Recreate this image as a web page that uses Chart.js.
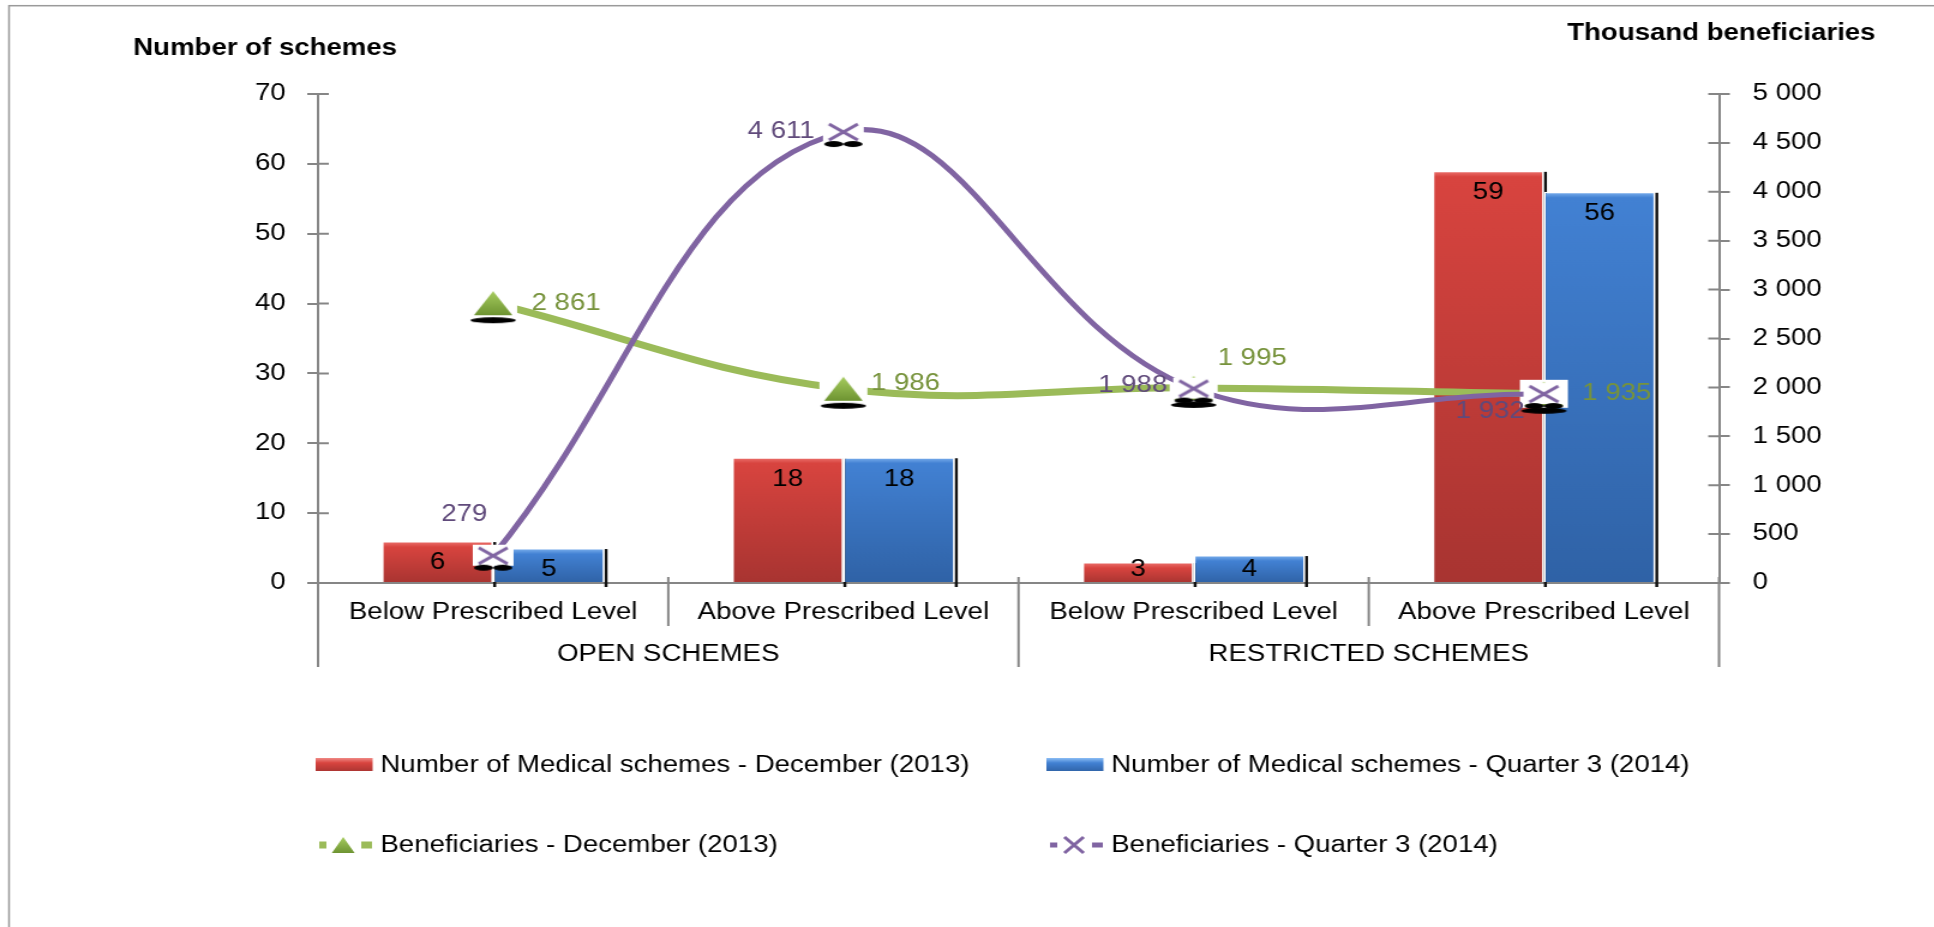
<!DOCTYPE html>
<html>
<head>
<meta charset="utf-8">
<script src="https://cdn.jsdelivr.net/npm/chart.js@4.4.1/dist/chart.umd.min.js"></script>
<style>
html, body { margin: 0; padding: 0; background: #fff; overflow: hidden; }
/* the original picture is stretched sideways, so the canvas is too */
#wrap { width: 1612px; height: 927px; transform: scaleX(1.2); transform-origin: 0 0; }
</style>
</head>
<body>
<div id="wrap"><canvas id="chart" width="1612" height="927"></canvas></div>
<script>
// data
var categories = ['Below Prescribed Level', 'Above Prescribed Level', 'Below Prescribed Level', 'Above Prescribed Level'];
var groups = ['OPEN SCHEMES', 'RESTRICTED SCHEMES'];
var groupSpans = [2, 2];
var schemesDec2013 = [6, 18, 3, 59];
var schemesQ3_2014 = [5, 18, 4, 56];
var benefDec2013 = [2861, 1986, 1995, 1935];
var benefQ3_2014 = [279, 4611, 1988, 1932];
var leftTicks = [0, 10, 20, 30, 40, 50, 60, 70];
var rightTicks = [0, 500, 1000, 1500, 2000, 2500, 3000, 3500, 4000, 4500, 5000];
var seriesNames = [
    'Number of Medical schemes - December (2013)',
    'Number of Medical schemes - Quarter 3 (2014)',
    'Beneficiaries - December (2013)',
    'Beneficiaries - Quarter 3 (2014)'
];

var fontFamily = '"Liberation Sans", Arial, Helvetica, sans-serif';
Chart.defaults.font.family = fontFamily;
Chart.defaults.font.size = 23;
Chart.defaults.color = '#000';

var axisGrey = '#868686';
var green = '#9BBB59', greenText = '#77933C';
var purple = '#8064A2', purpleText = '#604A7B';

// label offsets (logical px) for the line labels
var greenLabelPos = [[32, 0, 'left'], [23, -5, 'left'], [20, -29, 'left'], [32, 0, 'left']];
var purpleLabelPos = [[-24, -41, 'center'], [-24, 0, 'right'], [-22, -3, 'right'], [-16, 18, 'right']];

function spaced(v) {
    return String(v).replace(/\B(?=(\d{3})+(?!\d))/g, ' ');
}

function barFill(bevel, top, bottom) {
    return function (c) {
        var ys = c.chart.scales.y;
        if (!ys || c.type !== 'data') return top;
        var y0 = ys.getPixelForValue(c.raw), y1 = ys.getPixelForValue(0);
        if (!isFinite(y0) || !isFinite(y1)) return top;
        var h = Math.max(y1 - y0, 1);
        var g = c.chart.ctx.createLinearGradient(0, y0, 0, y1);
        g.addColorStop(0, bevel);
        g.addColorStop(Math.min(6 / h, 0.4), top);
        g.addColorStop(1, bottom);
        return g;
    };
}

function drawTriangle(g, cx, cy, hw, hh) {
    var gr = g.createLinearGradient(0, cy - hh, 0, cy + hh);
    gr.addColorStop(0, '#A6CC5E');
    gr.addColorStop(1, '#6E9432');
    g.fillStyle = gr;
    g.beginPath();
    g.moveTo(cx, cy - hh);
    g.lineTo(cx + hw, cy + hh);
    g.lineTo(cx - hw, cy + hh);
    g.closePath();
    g.fill();
}

function drawCross(g, cx, cy, hw, hh, lw) {
    g.strokeStyle = purple;
    g.lineWidth = lw;
    g.beginPath();
    g.moveTo(cx - hw, cy - hh); g.lineTo(cx + hw, cy + hh);
    g.moveTo(cx + hw, cy - hh); g.lineTo(cx - hw, cy + hh);
    g.stroke();
}

// point markers as small canvases (white box + black shadow like the original)
function makeMarker(kind) {
    var c = document.createElement('canvas');
    c.width = 44; c.height = 46;
    var g = c.getContext('2d');
    var cx = 22, cy = 23;
    if (kind === 'tri') {
        g.fillStyle = '#fff';
        g.fillRect(2, cy - 14, 40, 28);
        g.fillStyle = '#000';
        g.beginPath();
        g.ellipse(cx, cy + 17, 19, 3, 0, 0, Math.PI * 2);
        g.fill();
        drawTriangle(g, cx, cy, 16, 12);
    } else {
        g.fillStyle = '#fff';
        g.fillRect(cx - 17, cy - 11, 34, 21);
        g.fillStyle = '#000';
        g.beginPath();
        g.ellipse(cx - 8, cy + 12, 8, 3, 0, 0, Math.PI * 2);
        g.ellipse(cx + 8, cy + 12, 8, 3, 0, 0, Math.PI * 2);
        g.fill();
        drawCross(g, cx, cy, 12, 8, 3);
    }
    return c;
}

var decor = {
    id: 'decor',
    // dark strip on the right of every bar, drawn first so bars cover it where they overlap
    beforeDatasetsDraw: function (chart) {
        var c = chart.ctx;
        c.save();
        c.fillStyle = '#111';
        chart.data.datasets.forEach(function (ds, di) {
            var meta = chart.getDatasetMeta(di);
            if (meta.type !== 'bar') return;
            meta.data.forEach(function (el) {
                c.fillRect(el.x + el.width / 2, el.y + 1, 2.5, el.base - el.y + 4);
            });
        });
        c.restore();
    },
    afterDatasetsDraw: function (chart) {
        var c = chart.ctx;
        c.save();
        c.font = '23px ' + fontFamily;
        c.textBaseline = 'middle';
        chart.data.datasets.forEach(function (ds, di) {
            var meta = chart.getDatasetMeta(di);
            meta.data.forEach(function (el, i) {
                var v = ds.data[i];
                if (meta.type === 'bar') {
                    c.fillStyle = '#000';
                    c.textAlign = 'center';
                    c.fillText(spaced(v), el.x, Math.min(el.y + 22, el.base - 12));
                } else {
                    var pos = di === 2 ? greenLabelPos[i] : purpleLabelPos[i];
                    c.fillStyle = di === 2 ? greenText : purpleText;
                    c.textAlign = pos[2];
                    c.fillText(spaced(v), el.x + pos[0], el.y + pos[1]);
                }
            });
        });
        c.restore();
    },
    afterDraw: function (chart) {
        var c = chart.ctx, xs = chart.scales.x, ys = chart.scales.y, y1 = chart.scales.y1;
        var base = chart.chartArea.bottom;
        c.save();
        c.strokeStyle = axisGrey;
        c.lineWidth = 2;
        // inner halves of the tick marks
        c.beginPath();
        ys.ticks.forEach(function (t) {
            var p = ys.getPixelForValue(t.value);
            c.moveTo(ys.right, p); c.lineTo(ys.right + 9, p);
        });
        y1.ticks.forEach(function (t) {
            var p = y1.getPixelForValue(t.value);
            c.moveTo(y1.left - 9, p); c.lineTo(y1.left, p);
        });
        // category separators
        var start = 0;
        c.moveTo(xs.getPixelForValue(-0.5), base); c.lineTo(xs.getPixelForValue(-0.5), base + 84);
        groupSpans.forEach(function (n) {
            for (var k = 1; k < n; k++) {
                var px = xs.getPixelForValue(start + k - 0.5);
                c.moveTo(px, base - 6); c.lineTo(px, base + 43);
            }
            start += n;
            var pe = xs.getPixelForValue(start - 0.5);
            c.moveTo(pe, base - 6); c.lineTo(pe, base + 84);
        });
        c.stroke();

        // category and group labels
        c.fillStyle = '#000';
        c.font = '23px ' + fontFamily;
        c.textAlign = 'center';
        c.textBaseline = 'middle';
        categories.forEach(function (lab, i) {
            c.fillText(lab, xs.getPixelForValue(i), base + 30);
        });
        start = 0;
        groups.forEach(function (g, i) {
            var a = xs.getPixelForValue(start - 0.5), b = xs.getPixelForValue(start + groupSpans[i] - 0.5);
            c.fillText(g, (a + b) / 2, base + 72);
            start += groupSpans[i];
        });

        // axis titles
        c.font = 'bold 23px ' + fontFamily;
        c.textAlign = 'left';
        c.fillText('Number of schemes', 111, 49);
        c.fillText('Thousand beneficiaries', 1306, 34);

        // legend
        var cols = [263, 872], rows = [765, 845];
        c.font = '23px ' + fontFamily;
        chart.data.datasets.forEach(function (ds, di) {
            var x0 = cols[di % 2], y = rows[Math.floor(di / 2)];
            if (di < 2) {
                var gr = c.createLinearGradient(0, y - 7, 0, y + 7);
                gr.addColorStop(0, di === 0 ? '#F08A86' : '#8CBEF5');
                gr.addColorStop(0.35, di === 0 ? '#D8443F' : '#4281D3');
                gr.addColorStop(1, di === 0 ? '#A83431' : '#2F62A6');
                c.fillStyle = gr;
                c.fillRect(x0, y - 7, 47.5, 13);
            } else {
                c.fillStyle = di === 2 ? green : purple;
                var th = di === 2 ? 7 : 5;
                c.fillRect(x0 + 3, y - th / 2, 6, th);
                c.fillRect(x0 + 38, y - th / 2, 9, th);
                if (di === 2) drawTriangle(c, x0 + 23, y, 9.5, 8);
                else drawCross(c, x0 + 23, y, 8, 8, 3);
            }
            c.fillStyle = '#000';
            c.textAlign = 'left';
            c.fillText(ds.label, x0 + 54, y + 1);
        });

        // outer frame
        c.strokeStyle = '#9a9a9a';
        c.lineWidth = 1.5;
        c.strokeRect(7.5, 5.7, 2000, 2000);
        c.restore();
    }
};

new Chart(document.getElementById('chart'), {
    type: 'bar',
    data: {
        labels: categories,
        datasets: [{
            label: seriesNames[0],
            data: schemesDec2013,
            backgroundColor: barFill('#EE7672', '#D8443F', '#A83431'),
            borderColor: '#fff',
            borderWidth: 1.5,
            categoryPercentage: 0.636,
            barPercentage: 1,
            yAxisID: 'y',
            order: 2
        }, {
            label: seriesNames[1],
            data: schemesQ3_2014,
            backgroundColor: barFill('#82B5F0', '#4281D3', '#2F62A6'),
            borderColor: '#fff',
            borderWidth: 1.5,
            categoryPercentage: 0.636,
            barPercentage: 1,
            yAxisID: 'y',
            order: 3
        }, {
            type: 'line',
            label: seriesNames[2],
            data: benefDec2013,
            borderColor: green,
            borderWidth: 7,
            tension: 0.4,
            pointStyle: makeMarker('tri'),
            pointRadius: 10,
            yAxisID: 'y1',
            order: 1
        }, {
            type: 'line',
            label: seriesNames[3],
            data: benefQ3_2014,
            borderColor: purple,
            borderWidth: 5,
            tension: 0.4,
            pointStyle: makeMarker('x'),
            pointRadius: 10,
            yAxisID: 'y1',
            order: 0
        }]
    },
    options: {
        responsive: false,
        animation: false,
        layout: { padding: { top: 94, left: 0, right: 0, bottom: 0 } },
        plugins: {
            legend: { display: false },
            tooltip: { enabled: false }
        },
        scales: {
            x: {
                type: 'category',
                offset: true,
                grid: { display: false },
                ticks: { display: false },
                border: { color: axisGrey, width: 2 },
                afterFit: function (s) { s.height = 344; }
            },
            y: {
                position: 'left',
                min: 0,
                max: 70,
                afterBuildTicks: function (s) { s.ticks = leftTicks.map(function (v) { return { value: v }; }); },
                grid: { drawOnChartArea: false, tickLength: 9, color: axisGrey, lineWidth: 2 },
                border: { color: axisGrey, width: 2 },
                ticks: { padding: 18, color: '#000' },
                afterFit: function (s) { s.width = 265; }
            },
            y1: {
                position: 'right',
                min: 0,
                max: 5000,
                afterBuildTicks: function (s) { s.ticks = rightTicks.map(function (v) { return { value: v }; }); },
                grid: { drawOnChartArea: false, tickLength: 9, color: axisGrey, lineWidth: 2 },
                border: { color: axisGrey, width: 2 },
                ticks: { padding: 19, color: '#000', callback: function (v) { return spaced(v); } },
                afterFit: function (s) { s.width = 179.5; }
            }
        }
    },
    plugins: [decor]
});
</script>
</body>
</html>
